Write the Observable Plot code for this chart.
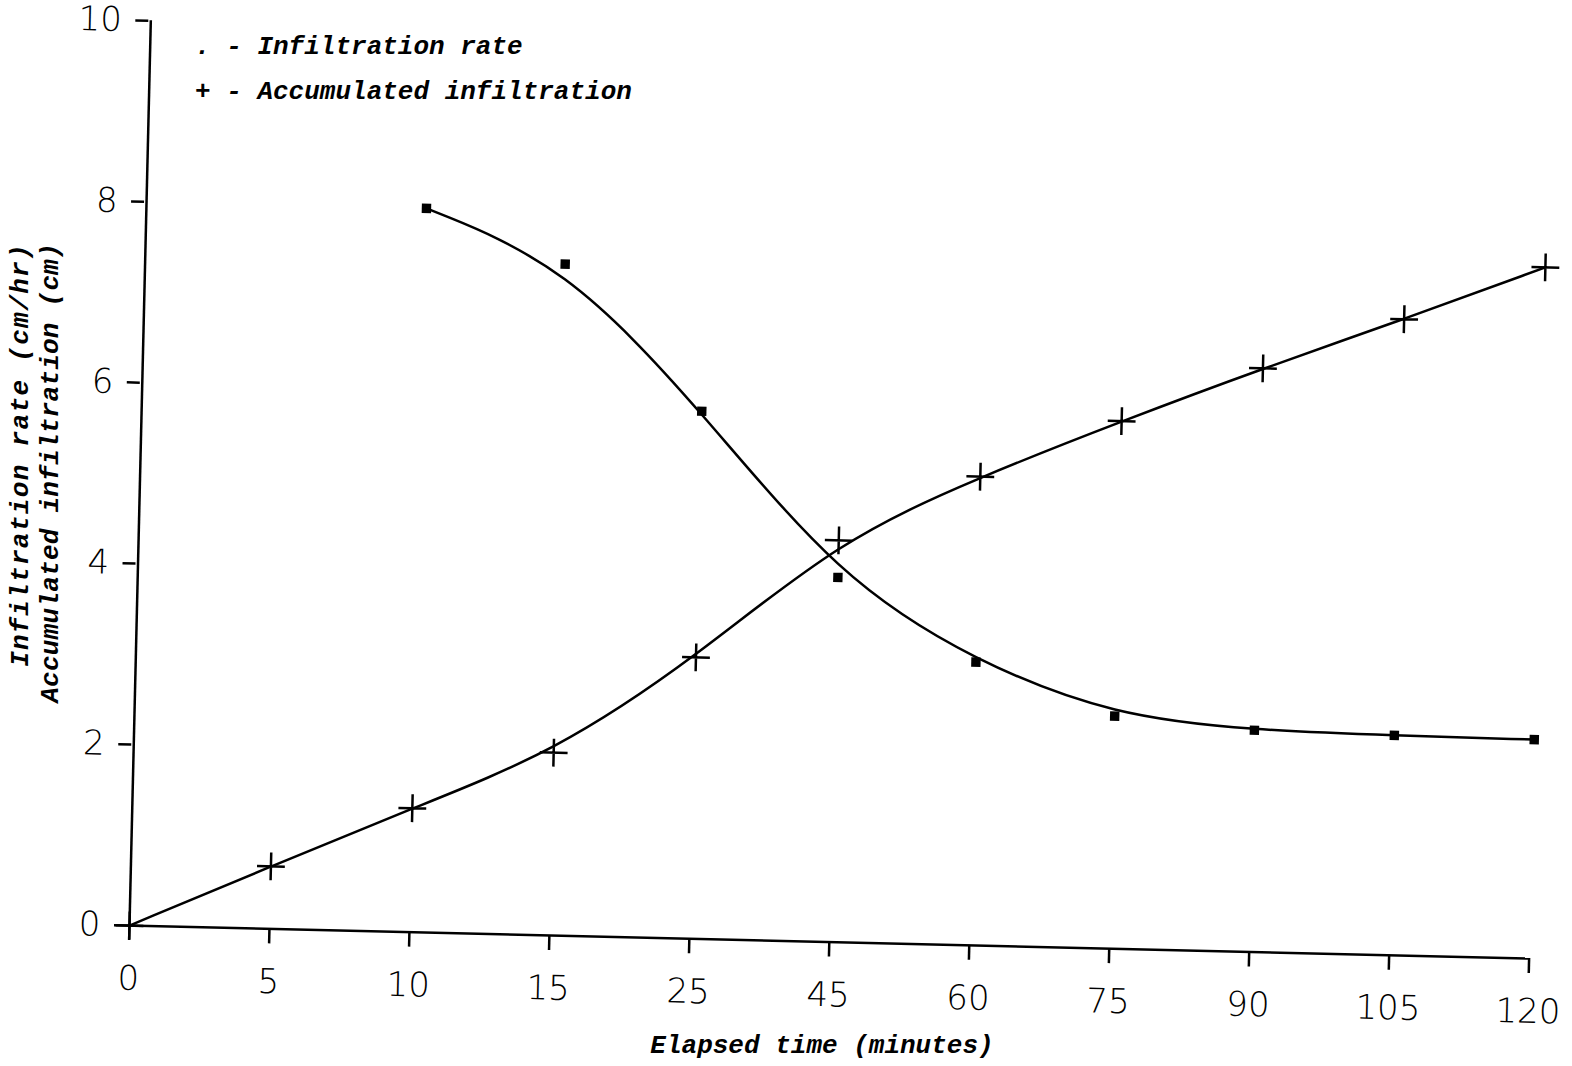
<!DOCTYPE html>
<html><head><meta charset="utf-8">
<script src="https://cdn.jsdelivr.net/npm/d3@7"></script>
<script src="https://cdn.jsdelivr.net/npm/@observablehq/plot@0.6"></script>
<style>
html,body{margin:0;padding:0;background:#fff;overflow:hidden;width:1572px;height:1066px;}
#wrap{position:relative;width:1572px;height:1066px;}
#chart svg{display:block;overflow:visible;}
.mono{position:absolute;font-family:"Liberation Mono",monospace;font-style:italic;font-weight:bold;font-size:26px;line-height:30px;white-space:pre;color:#000;}
</style></head><body>
<div id="wrap"><div id="chart"></div></div>
<script>
// ---- data ----
const timeLabels = ["0","5","10","15","25","45","60","75","90","105","120"];
const accumTimes = ["0","5","10","15","25","45","60","75","90","105","120"];
const accumValues = [0, 0.69, 1.37, 2.02, 3.11, 4.44, 5.18, 5.83, 6.45, 7.03, 7.64];
const rateTimes = ["10","15","25","45","60","75","90","105","120"];
const rateValues = [8.00, 7.42, 5.83, 4.03, 3.13, 2.57, 2.45, 2.43, 2.42];
const yTicks = [0, 2, 4, 6, 8, 10];
const legendSymbols = [".", "+"];
const legendLabels = ["Infiltration rate", "Accumulated infiltration"];
const xTitle = "Elapsed time (minutes)";
const yTitleLines = ["Infiltration rate (cm/hr)", "Accumulated infiltration (cm)"];

const accum = accumTimes.map((t, i) => ({t, v: accumValues[i]}));
const rate = rateTimes.map((t, i) => ({t, v: rateValues[i]}));

const tickFont = "'DejaVu Sans ExtraLight', 'DejaVu Sans', sans-serif";
const plot = Plot.plot({
  width: 1572, height: 1066,
  marginLeft: 127, marginRight: 42, marginTop: 20, marginBottom: 141,
  style: {background: "transparent", fontFamily: tickFont, fontWeight: 200, fontSize: "34px", color: "black", overflow: "visible"},
  x: {type: "point", domain: timeLabels, padding: 0, label: null},
  y: {domain: [0, 10], label: null},
  marks: [
    Plot.axisX({ticks: timeLabels, tickSize: 15, tickPadding: 25, strokeWidth: 2.5, label: null, fontSize: 34}),
    Plot.axisY({ticks: yTicks, tickSize: 13, tickPadding: 14, strokeWidth: 2.5, label: null, fontSize: 34}),
    Plot.ruleY([0], {strokeWidth: 2.5}),
    Plot.ruleX([timeLabels[0]], {strokeWidth: 2.5}),
    Plot.line(accum, {x: "t", y: "v", curve: "basis", strokeWidth: 2.5, stroke: "black"}),
    Plot.line(rate, {x: "t", y: "v", curve: "basis", strokeWidth: 2.5, stroke: "black"}),
    Plot.dot(accum, {x: "t", y: "v", symbol: "plus", r: 9, stroke: "black", strokeWidth: 2.5}),
    Plot.dot(rate, {x: "t", y: "v", symbol: "square", r: 5.3, fill: "black", stroke: "none"})
  ]
});
plot.style.transform = "rotate(1.35deg)";
plot.style.transformOrigin = "127px 925px";
document.getElementById("chart").appendChild(plot);

const wrap = document.getElementById("wrap");
// legend
legendLabels.forEach((lab, i) => {
  const d = document.createElement("div");
  d.className = "mono";
  d.style.left = "195px";
  d.style.top = (32 + i * 45) + "px";
  d.textContent = legendSymbols[i] + " - " + lab;
  wrap.appendChild(d);
});
// x title
const xt = document.createElement("div");
xt.className = "mono";
xt.style.left = "0px"; xt.style.width = "1644px"; xt.style.textAlign = "center";
xt.style.top = "1031px";
xt.textContent = xTitle;
wrap.appendChild(xt);
// y title (rotated, end-aligned at top)
const W = 520;
const spacing = [1.35, 0.25];
const centers = [20.7, 50.5];
yTitleLines.forEach((line, i) => {
  const yt = document.createElement("div");
  yt.className = "mono";
  yt.style.width = W + "px";
  yt.style.height = "30px";
  yt.style.textAlign = "right";
  yt.style.letterSpacing = spacing[i] + "px";
  yt.style.left = (centers[i] - 15) + "px";
  yt.style.top = (243 + W) + "px";
  yt.style.transformOrigin = "0 0";
  yt.style.transform = "rotate(-90deg)";
  yt.textContent = line;
  wrap.appendChild(yt);
});
</script>
</body></html>
